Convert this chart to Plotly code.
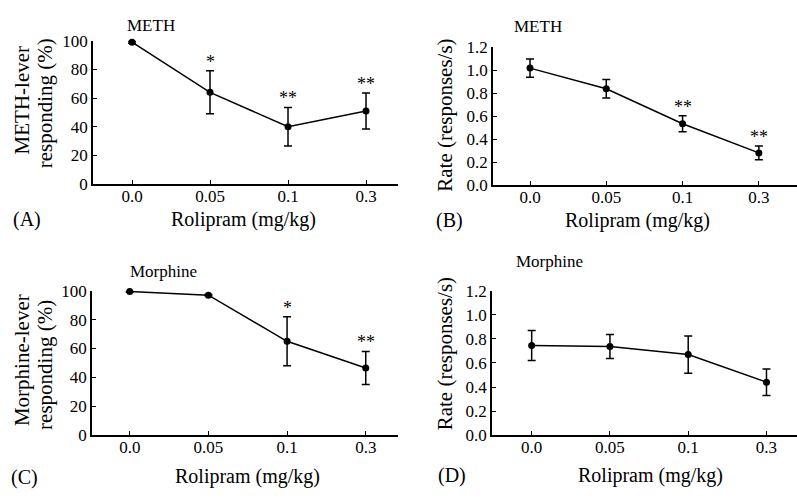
import plotly.graph_objects as go

W, H = 797, 498
FONT = "Liberation Serif"

doses = ["0.0", "0.05", "0.1", "0.3"]

# Panel A: METH-lever responding (%)
a_mean = [99, 64, 40, 51]
a_err = [0.8, 15, 13.5, 12.5]
a_sig = ["", "*", "**", "**"]

# Panel B: METH rate (responses/s)
b_mean = [1.02, 0.84, 0.535, 0.28]
b_err = [0.08, 0.08, 0.07, 0.06]
b_sig = ["", "", "**", "**"]

# Panel C: Morphine-lever responding (%)
c_mean = [99.5, 97, 65, 46.5]
c_err = [0.5, 0.5, 17, 11.5]
c_sig = ["", "", "*", "**"]

# Panel D: Morphine rate (responses/s)
d_mean = [0.745, 0.737, 0.67, 0.44]
d_err = [0.125, 0.10, 0.155, 0.11]
d_sig = ["", "", "", ""]

pct_ticks = [0, 20, 40, 60, 80, 100]
rate_ticks = [0.0, 0.2, 0.4, 0.6, 0.8, 1.0, 1.2]
rate_ticktext = [f"{v:.1f}" for v in rate_ticks]


def px_x(p):
    return p / W


def px_y(p):
    return 1 - p / H


panels = [
    dict(m=a_mean, e=a_err, s=a_sig, xd=(93, 398), yd=(33, 182), xr=[-0.5, 3.41], yr=[0, 100],
         tv=pct_ticks, tt=[str(v) for v in pct_ticks]),
    dict(m=b_mean, e=b_err, s=b_sig, xd=(493, 797), yd=(40, 183), xr=[-0.485, 3.5], yr=[0, 1.2],
         tv=rate_ticks, tt=rate_ticktext),
    dict(m=c_mean, e=c_err, s=c_sig, xd=(92, 398), yd=(293, 443), xr=[-0.48, 3.41], yr=[0, 100],
         tv=pct_ticks, tt=[str(v) for v in pct_ticks]),
    dict(m=d_mean, e=d_err, s=d_sig, xd=(492, 797), yd=(293, 443), xr=[-0.507, 3.39], yr=[0, 1.2],
         tv=rate_ticks, tt=rate_ticktext),
]

fig = go.Figure()
layout = dict(
    width=W, height=H, margin=dict(l=0, r=0, t=0, b=0),
    paper_bgcolor="white", plot_bgcolor="white", showlegend=False,
    font=dict(family=FONT, color="black", size=16),
)
annotations = []

for i, p in enumerate(panels):
    n = "" if i == 0 else str(i + 1)
    xa, ya = "x" + n, "y" + n
    fig.add_trace(go.Scatter(
        x=doses, y=p["m"], xaxis=xa, yaxis=ya, mode="lines+markers",
        line=dict(color="black", width=1.5),
        marker=dict(color="black", size=7),
        error_y=dict(type="data", array=p["e"], color="black", thickness=1.5, width=4),
        cliponaxis=False,
    ))
    layout["xaxis" + n] = dict(
        domain=[px_x(p["xd"][0]), px_x(p["xd"][1])], anchor=ya, type="category",
        range=p["xr"], showline=True, linecolor="black", linewidth=1.5,
        ticks="inside", ticklen=4, tickcolor="black", showgrid=False, zeroline=False,
        tickfont=dict(family=FONT, size=17), ticklabelstandoff=-4,
    )
    layout["yaxis" + n] = dict(
        domain=[px_y(p["yd"][1]), px_y(p["yd"][0])], anchor=xa, range=p["yr"],
        tickvals=p["tv"], ticktext=p["tt"], showline=True, linecolor="black", linewidth=1.5,
        ticks="inside", ticklen=4, tickcolor="black", showgrid=False, zeroline=False,
        tickfont=dict(family=FONT, size=17),
    )
    for j, (m, e, s) in enumerate(zip(p["m"], p["e"], p["s"])):
        if s:
            annotations.append(dict(
                x=j, y=m + e, xref=xa, yref=ya, text=s, showarrow=False,
                xanchor="center", yanchor="bottom", yshift=-3,
                font=dict(family=FONT, size=18),
            ))

def ann(text, x, y, size=20, angle=0):
    annotations.append(dict(
        text=text, x=px_x(x), y=px_y(y), xref="paper", yref="paper",
        showarrow=False, xanchor="center", yanchor="middle", textangle=angle,
        font=dict(family=FONT, size=size, color="black"),
    ))

# panel titles
ann("METH", 151, 17, size=17)
ann("METH", 538, 18, size=17)
ann("Morphine", 163, 273, size=17)
ann("Morphine", 549, 263, size=17)

# x axis titles
ann("Rolipram (mg/kg)", 243, 219)
ann("Rolipram (mg/kg)", 637, 220)
ann("Rolipram (mg/kg)", 247, 486)
ann("Rolipram (mg/kg)", 650, 485)

# panel letters
ann("(A)", 27, 219)
ann("(B)", 449, 220)
ann("(C)", 24, 487)
ann("(D)", 452, 485)

# y axis titles
ann("METH-lever", 22, 95, size=21, angle=-90)
ann("responding (%)", 45, 98, size=21, angle=-90)
ann("Rate (responses/s)", 445, 111, size=21, angle=-90)
ann("Morphine-lever", 22, 365, size=21, angle=-90)
ann("responding (%)", 45, 370, size=21, angle=-90)
ann("Rate (responses/s)", 445, 359, size=21, angle=-90)

layout["annotations"] = annotations
fig.update_layout(**layout)
fig.write_html("out.html")
